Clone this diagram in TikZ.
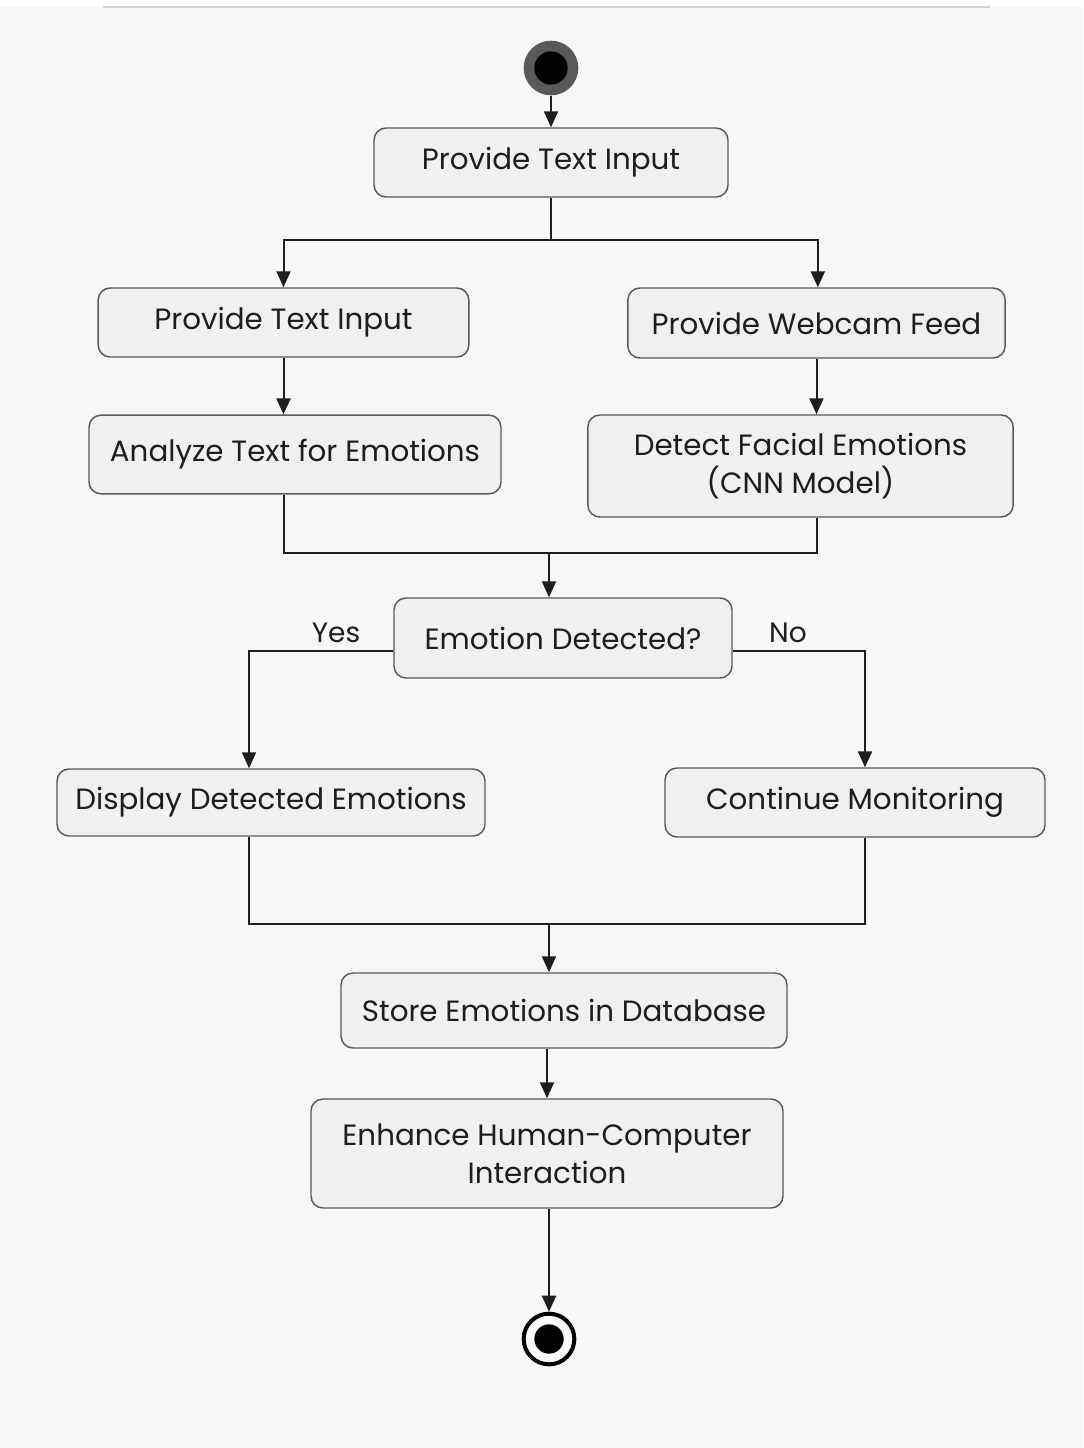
\documentclass[tikz,border=0pt]{standalone}
\usepackage{fontspec}
\setmainfont{Poppins}
\usetikzlibrary{arrows.meta}
\definecolor{pagebg}{HTML}{F8F6F7}
\definecolor{boxfill}{HTML}{F1F0F1}
\definecolor{boxline}{HTML}{5A5A5A}
\definecolor{ink}{HTML}{1E1E1E}
\begin{document}
\begin{tikzpicture}[x=0.75pt,y=-0.75pt,
  act/.style={draw=boxline,line width=1.1pt,fill=boxfill,rounded corners=9pt,
    align=center,text=ink,inner sep=0pt,font=\fontsize{22}{28.5}\selectfont},
  flow/.style={draw=ink,line width=1.5pt},
  arr/.style={flow,-{Triangle[length=12pt,width=10.5pt]}},
  lbl/.style={text=ink,font=\fontsize{21}{24}\selectfont,inner sep=0pt}]
% page
\useasboundingbox (0,0) rectangle (1083,1448);
\fill[pagebg] (0,0) rectangle (1083,1448);
\fill[white] (0,0) rectangle (1083,7);
\draw[black!18,line width=1pt] (103,7) -- (990,7);

% start and end markers
\node[circle,fill=boxline,minimum size=41pt,inner sep=0pt] (start) at (551,68) {};
\fill[black] (start.center) circle (12.5pt);
\node[circle,draw=black,line width=3pt,fill=white!60!pagebg,minimum size=38pt,inner sep=0pt] (stop) at (549,1339) {};
\fill[black] (stop.center) circle (11pt);

% activities
\node[act,minimum width=265.5pt,minimum height=51.75pt] (b1) at (551,162.5) {Provide Text Input};
\node[act,minimum width=278pt,minimum height=51.75pt] (b2) at (283.5,322.5) {Provide Text Input};
\node[act,minimum width=283pt,minimum height=52.5pt] (b3) at (816.5,323) {Provide Webcam Feed};
\node[act,minimum width=309pt,minimum height=59pt] (b4) at (295,454.5) {Analyze Text for Emotions};
\node[act,minimum width=319pt,minimum height=76.5pt] (b5) at (800.5,466) {Detect Facial Emotions\\(CNN Model)};
\node[act,minimum width=253.5pt,minimum height=60pt] (b6) at (563,638) {Emotion Detected?};
\node[act,minimum width=321pt,minimum height=50.25pt] (b7) at (271,802.5) {Display Detected Emotions};
\node[act,minimum width=285pt,minimum height=51.75pt] (b8) at (855,802.5) {Continue Monitoring};
\node[act,minimum width=334.5pt,minimum height=56.25pt] (b9) at (564,1010.5) {Store Emotions in Database};
\node[act,minimum width=354pt,minimum height=81.75pt] (b10) at (547,1153.5) {Enhance Human-Computer\\Interaction};

% branch labels
\node[lbl] (yeslbl) at (336,633) {Yes};
\node[lbl] (nolbl) at (788,633) {No};

% junction points
\coordinate (split) at (551,240);
\coordinate (merge1) at (549,553);
\coordinate (yes) at (249,651);
\coordinate (no) at (865,651);
\coordinate (merge2) at (549,924);

% connectors
\draw[arr] (start) -- (b1.north);
\draw[flow] (b1.south) -- (split);
\draw[arr] (split) -| (b2.north);
\draw[arr] (split) -| ([xshift=1pt]b3.north);
\draw[arr] (b2.south) -- (b2.south |- b4.north);
\draw[arr] (b3.south) -- (b3.south |- b5.north);
\draw[flow] (b2.south |- b4.south) |- (merge1) -| (b3.south |- b5.south);
\draw[arr] (merge1) -- (merge1 |- b6.north);
\draw[arr] (yes -| b6.west) -- (yes) -- (yes |- b7.north);
\draw[arr] (no -| b6.east) -- (no) -- (no |- b8.north);
\draw[flow] (yes |- b7.south) |- (merge2) -| (no |- b8.south);
\draw[arr] (merge2) -- (merge2 |- b9.north);
\draw[arr] (b10.north |- b9.south) -- (b10.north);
\draw[arr] (stop.north |- b10.south) -- (stop.north);
\end{tikzpicture}
\end{document}
